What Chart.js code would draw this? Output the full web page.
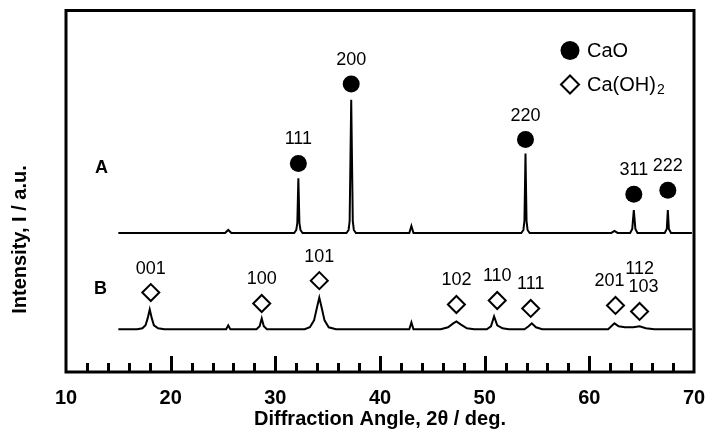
<!DOCTYPE html>
<html>
<head>
<meta charset="utf-8">
<script src="https://cdn.jsdelivr.net/npm/chart.js@4.4.0/dist/chart.umd.min.js"></script>
<style>
  html, body { margin: 0; padding: 0; background: #fff; }
  #wrap { width: 715px; height: 432px; }
</style>
</head>
<body>
<div id="wrap"><canvas id="xrd" width="715" height="432"></canvas></div>
<script>
// pattern A : 2theta (deg) and intensity (a.u.)
const angleA = [15.0, 25.2, 25.5, 25.8, 31.8, 32.0, 32.1, 32.2, 32.3, 32.4, 32.6,
    36.8, 37.0, 37.1, 37.25, 37.4, 37.5, 37.7, 42.8, 43.0, 43.2,
    53.5, 53.7, 53.8, 53.9, 54.0, 54.1, 54.3, 62.1, 62.4, 62.7,
    63.9, 64.1, 64.25, 64.4, 64.6, 67.2, 67.4, 67.5, 67.6, 67.8, 69.8];
const intensityA = [140, 140, 143, 140, 140, 143, 150, 195, 150, 143, 140,
    140, 143, 152, 274, 152, 143, 140, 140, 147, 140,
    140, 143, 152, 220, 152, 143, 140, 140, 142, 140,
    140, 144, 163, 144, 140, 140, 144, 163, 144, 140, 140];

// pattern B
const angleB = [15.0, 16.8, 17.3, 17.6, 17.8, 18.0, 18.2, 18.4, 18.8, 19.4,
    25.3, 25.5, 25.7, 28.2, 28.5, 28.7, 28.9, 29.2,
    32.8, 33.3, 33.7, 34.0, 34.2, 34.4, 34.7, 35.1, 35.8,
    42.8, 43.0, 43.2, 45.8, 46.5, 47.0, 47.3, 47.7, 48.3, 49.0,
    50.2, 50.6, 50.9, 51.2, 51.7, 52.3, 53.8, 54.2, 54.5, 54.9, 55.5,
    61.8, 62.2, 62.4, 62.8, 63.4, 64.2, 64.8, 65.4, 66.2, 69.8];
const intensityB = [43, 43, 44, 47, 54, 63, 54, 47, 44, 43,
    43, 47, 43, 43, 46, 54, 46, 43,
    43, 45, 52, 66, 75, 66, 52, 45, 43,
    43, 50, 43, 43, 45, 49, 51, 48, 44, 43,
    43, 46, 56, 47, 44, 43, 43, 46, 49, 45, 43,
    43, 47, 49, 46, 45, 45, 46, 44, 43, 43];

// peak markers
const caoAngle = [32.2, 37.25, 53.9, 64.25, 67.5];
const caoMark = [210, 290, 234, 179, 183];
const caoHkl = ['111', '200', '220', '311', '222'];

const cohAngle = [18.1, 28.7, 34.2, 47.3, 51.2, 54.4, 62.5, 64.8];
const cohMark = [80, 69, 92, 68, 72, 64, 67, 61];
const cohHkl = [['001'], ['100'], ['101'], ['102'], ['110'], ['111'], ['201'], ['103', '112']];

const sampleNames = ['A', 'B'];
const sampleAngle = [13.4, 13.3];
const sampleLevel = [205, 84];

const xTicks = [10, 20, 30, 40, 50, 60, 70];

const FONT = '"Liberation Sans", Arial, Helvetica, sans-serif';
// small nudges so the crowded labels do not overlap
const labelNudge = { '201': -6, '103': 4 };

const toPoints = (xs, ys) => xs.map((x, i) => ({ x: x, y: ys[i] }));

const decor = {
    id: 'decor',
    afterDraw(chart) {
        const ctx = chart.ctx;
        const area = chart.chartArea;
        const xs = chart.scales.x;
        const ys = chart.scales.y;
        ctx.save();
        ctx.strokeStyle = '#000';
        ctx.fillStyle = '#000';

        //frame
        ctx.lineWidth = 3;
        ctx.strokeRect(area.left, area.top, area.right - area.left, area.bottom - area.top);

        //inner ticks, every 2 deg
        for (let v = 12; v < 70; v += 2) {
            const px = Math.round(xs.getPixelForValue(v)) + 0.5;
            const len = v % 10 === 0 ? 16 : 9;
            ctx.lineWidth = 3;
            ctx.beginPath();
            ctx.moveTo(px, area.bottom);
            ctx.lineTo(px, area.bottom - len);
            ctx.stroke();
        }

        //hkl labels above markers
        ctx.font = '18px ' + FONT;
        ctx.textAlign = 'center';
        ctx.textBaseline = 'middle';
        const drawHkl = (dsIndex, labels) => {
            const meta = chart.getDatasetMeta(dsIndex);
            meta.data.forEach((pt, i) => {
                const lines = Array.isArray(labels[i]) ? labels[i] : [labels[i]];
                lines.forEach((txt, k) => {
                    const dx = labelNudge[txt] || 0;
                    ctx.fillText(txt, pt.x + dx, pt.y - 24 - k * 18);
                });
            });
        };
        drawHkl(2, caoHkl);
        drawHkl(3, cohHkl);

        //sample names
        ctx.font = 'bold 18px ' + FONT;
        sampleNames.forEach((name, i) => {
            ctx.fillText(name, xs.getPixelForValue(sampleAngle[i]), ys.getPixelForValue(sampleLevel[i]));
        });

        //legend
        const lx = area.right - 124;
        ctx.beginPath();
        ctx.arc(lx, area.top + 40, 9.5, 0, Math.PI * 2);
        ctx.fill();
        ctx.lineWidth = 2;
        ctx.beginPath();
        ctx.moveTo(lx - 9, area.top + 74);
        ctx.lineTo(lx, area.top + 65);
        ctx.lineTo(lx + 9, area.top + 74);
        ctx.lineTo(lx, area.top + 83);
        ctx.closePath();
        ctx.stroke();
        ctx.textAlign = 'left';
        ctx.font = '20px ' + FONT;
        ctx.fillText('CaO', lx + 17, area.top + 41);
        ctx.fillText('Ca(OH)', lx + 17, area.top + 75);
        const w = ctx.measureText('Ca(OH)').width;
        ctx.font = '14px ' + FONT;
        ctx.fillText('2', lx + 18 + w, area.top + 80);

        //y title
        ctx.font = 'bold 20px ' + FONT;
        ctx.textAlign = 'center';
        ctx.translate(20, area.top + 229);
        ctx.rotate(-Math.PI / 2);
        ctx.fillText('Intensity, I / a.u.', 0, 0);
        ctx.restore();
    }
};

const lineStyle = {
    borderColor: '#000',
    borderWidth: 2,
    pointRadius: 0,
    tension: 0,
    fill: false
};

new Chart(document.getElementById('xrd'), {
    type: 'line',
    data: {
        datasets: [
            Object.assign({ label: 'A', data: toPoints(angleA, intensityA) }, lineStyle),
            Object.assign({ label: 'B', data: toPoints(angleB, intensityB) }, lineStyle),
            {
                label: 'CaO',
                data: toPoints(caoAngle, caoMark),
                showLine: false,
                pointStyle: 'circle',
                pointRadius: 8.5,
                pointBackgroundColor: '#000',
                pointBorderWidth: 0
            },
            {
                label: 'Ca(OH)2',
                data: toPoints(cohAngle, cohMark),
                showLine: false,
                pointStyle: 'rectRot',
                pointRadius: 8.5,
                pointBackgroundColor: '#fff',
                pointBorderColor: '#000',
                pointBorderWidth: 2
            }
        ]
    },
    options: {
        responsive: false,
        animation: false,
        events: [],
        layout: { padding: { left: 66, top: 8, right: 21, bottom: 0 } },
        scales: {
            x: {
                type: 'linear',
                min: 10,
                max: 70,
                afterBuildTicks: (scale) => { scale.ticks = xTicks.map(v => ({ value: v })); },
                afterFit: (scale) => {
                    scale.height = 60;
                    //keep the edge labels from shrinking the plot
                    scale.paddingLeft = 0;
                    scale.paddingRight = 0;
                },
                grid: { display: false, drawTicks: false },
                border: { display: false },
                ticks: {
                    color: '#000',
                    padding: 14,
                    maxRotation: 0,
                    autoSkip: false,
                    font: { family: FONT, size: 20, weight: 'bold' }
                },
                title: {
                    display: true,
                    text: 'Diffraction Angle, 2θ / deg.',
                    color: '#000',
                    padding: { top: 0, bottom: 1 },
                    font: { family: FONT, size: 20, weight: 'bold' }
                }
            },
            y: {
                type: 'linear',
                min: 0,
                max: 364,
                display: false
            }
        },
        plugins: {
            legend: { display: false },
            tooltip: { enabled: false }
        }
    },
    plugins: [decor]
});
</script>
</body>
</html>
